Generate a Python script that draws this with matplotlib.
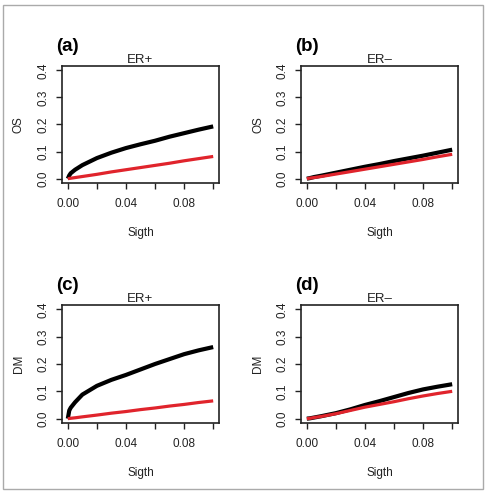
import matplotlib.pyplot as plt
from matplotlib.patches import Rectangle

plt.rcParams['font.family'] = ['Liberation Sans', 'DejaVu Sans']

# threshold values (x axis)
sigth = [0, 0.001, 0.002, 0.005, 0.01, 0.02, 0.03, 0.04, 0.05, 0.06, 0.07, 0.08, 0.09, 0.1]

# OS, ER+
os_pos_black = [0, 0.012, 0.02, 0.033, 0.05, 0.076, 0.096, 0.113, 0.127, 0.14, 0.155, 0.168, 0.181, 0.193]
os_pos_red = [0, 0.0008, 0.0016, 0.004, 0.008, 0.016, 0.025, 0.033, 0.041, 0.049, 0.057, 0.066, 0.074, 0.082]
# OS, ER-
os_neg_black = [0, 0.001, 0.002, 0.006, 0.011, 0.022, 0.033, 0.044, 0.054, 0.065, 0.075, 0.085, 0.096, 0.107]
os_neg_red = [0, 0.001, 0.002, 0.004, 0.008, 0.017, 0.026, 0.035, 0.044, 0.053, 0.062, 0.071, 0.081, 0.09]
# DM, ER+
dm_pos_black = [0, 0.03, 0.04, 0.06, 0.088, 0.12, 0.142, 0.16, 0.18, 0.2, 0.218, 0.236, 0.25, 0.262]
dm_pos_red = [0, 0.0006, 0.0013, 0.003, 0.0065, 0.013, 0.02, 0.026, 0.033, 0.039, 0.046, 0.052, 0.059, 0.065]
# DM, ER-
dm_neg_black = [0, 0.0005, 0.001, 0.004, 0.009, 0.02, 0.034, 0.05, 0.064, 0.079, 0.094, 0.107, 0.117, 0.126]
dm_neg_red = [0, 0.0005, 0.001, 0.004, 0.008, 0.018, 0.03, 0.042, 0.052, 0.062, 0.073, 0.083, 0.092, 0.1]

panels = [
    ('(a)', 'ER+', 'OS', os_pos_black, os_pos_red),
    ('(b)', 'ER\u2013', 'OS', os_neg_black, os_neg_red),
    ('(c)', 'ER+', 'DM', dm_pos_black, dm_pos_red),
    ('(d)', 'ER\u2013', 'DM', dm_neg_black, dm_neg_red),
]

W, H = 488, 494
fig = plt.figure(figsize=(W / 100, H / 100), dpi=100)

# axes boxes in pixels: left, top, right, bottom
boxes = [(62, 66, 219, 183), (301, 66, 458, 183),
         (62, 305, 219, 423), (301, 305, 458, 423)]

for (tag, title, ylab, black, red), (l, t, r, b) in zip(panels, boxes):
    ax = fig.add_axes([l / W, 1 - b / H, (r - l) / W, (b - t) / H])
    ax.plot(sigth, black, color='black', lw=3, solid_capstyle='butt')
    ax.plot(sigth, red, color='#e0242c', lw=2.3, solid_capstyle='butt')
    ax.set_xlim(-0.004, 0.104)
    ax.set_ylim(-0.016, 0.416)
    ax.set_xticks([0, 0.02, 0.04, 0.06, 0.08, 0.1])
    ax.set_xticklabels(['0.00', '', '0.04', '', '0.08', ''])
    ax.set_yticks([0, 0.1, 0.2, 0.3, 0.4])
    ax.set_yticklabels(['0.0', '0.1', '0.2', '0.3', '0.4'], rotation=90, va='center')
    ax.tick_params(direction='out', length=4, width=1, labelsize=8.5, pad=7, colors='#222222')
    ax.tick_params(axis='y', pad=5)
    for s in ax.spines.values():
        s.set_linewidth(1.2)
        s.set_color('#222222')
    ax.set_xlabel('Sigth', fontsize=8.5, labelpad=12, color='#222222')
    ax.set_ylabel(ylab, fontsize=8.5, labelpad=9, color='#222222')
    ax.set_title(title, fontsize=9.5, pad=1, color='#222222')
    ax.text(-0.04, 1.09, tag, transform=ax.transAxes, fontsize=13.5,
            fontweight='bold', ha='left', va='bottom')

# thin grey frame around the whole figure
fig.patches.append(Rectangle((3 / W, 1 - 489 / H), 480 / W, 484 / H,
                             transform=fig.transFigure, fill=False,
                             edgecolor='#aaaaaa', lw=1))

fig.savefig('out.png', dpi=100)
